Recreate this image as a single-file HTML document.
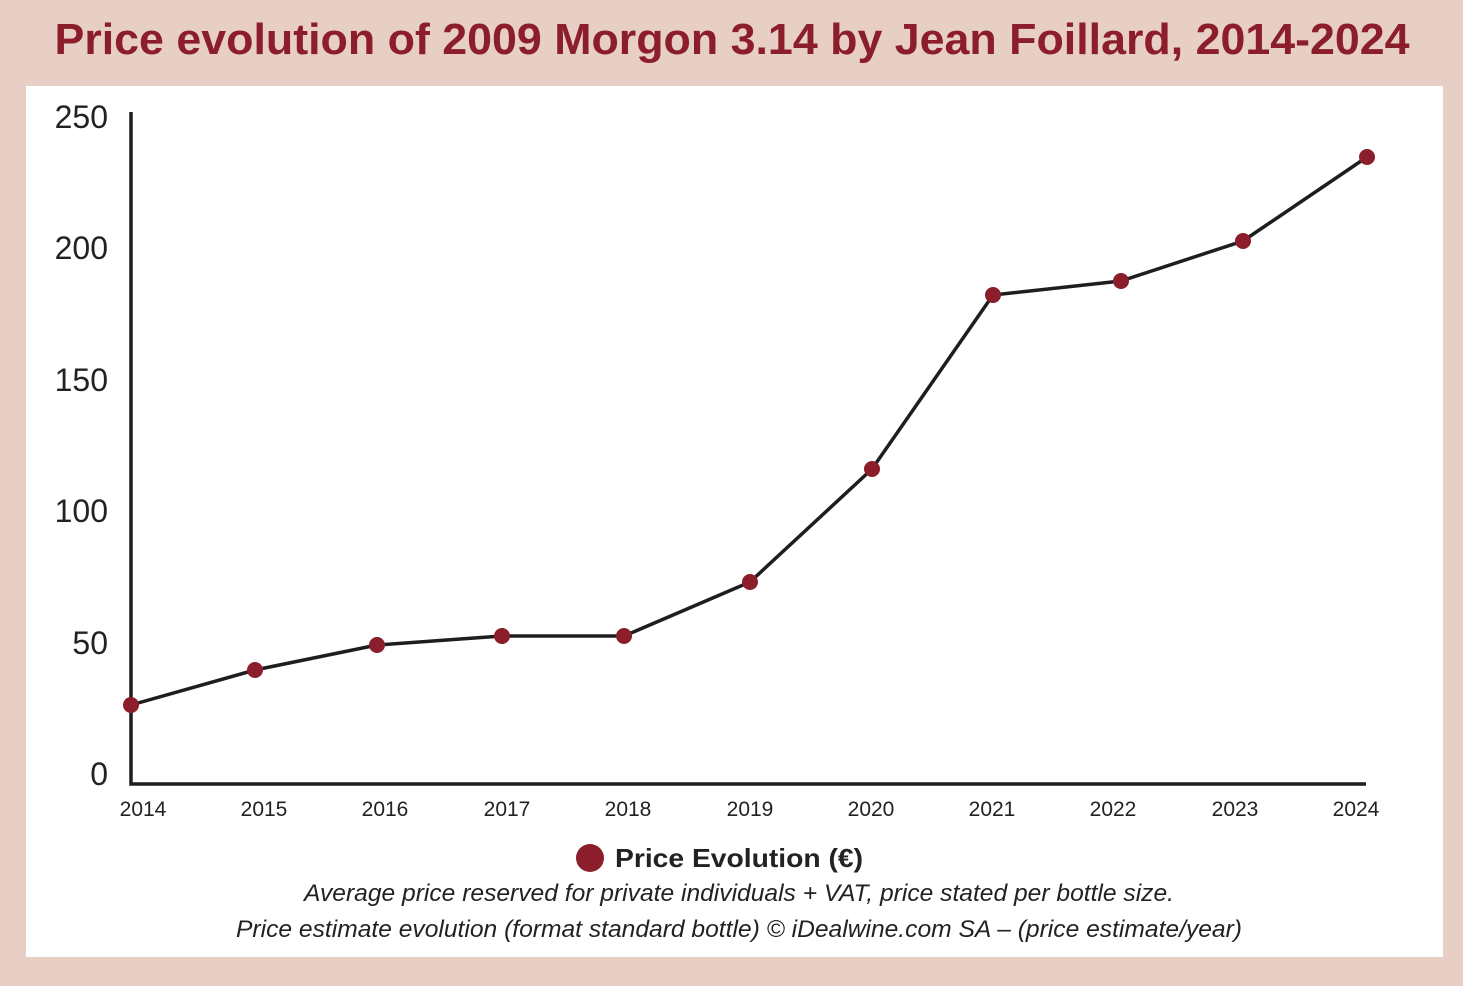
<!DOCTYPE html>
<html><head><meta charset="utf-8"><style>
html,body{margin:0;padding:0;background:#e7cfc6;}
svg{display:block;}
</style></head><body>
<svg width="1463" height="986" viewBox="0 0 1463 986" xmlns="http://www.w3.org/2000/svg" font-family="Liberation Sans, sans-serif">
<rect x="0" y="0" width="1463" height="986" fill="#e7cfc6"/>
<rect x="26" y="86" width="1417" height="871" fill="#ffffff"/>
<text x="732" y="54" text-anchor="middle" font-size="44" font-weight="bold" fill="#8c1e2b" textLength="1355" lengthAdjust="spacingAndGlyphs">Price evolution of 2009 Morgon 3.14 by Jean Foillard, 2014-2024</text>
<g font-size="32" fill="#222" text-anchor="end">
<text x="108" y="128">250</text>
<text x="108" y="259">200</text>
<text x="108" y="391">150</text>
<text x="108" y="522">100</text>
<text x="108" y="654">50</text>
<text x="108" y="785">0</text>
</g>
<path d="M131 112 V784 H1366" fill="none" stroke="#1e1e1e" stroke-width="3.5"/>
<g font-size="21" fill="#222" text-anchor="middle">
<text x="143" y="816">2014</text><text x="264" y="816">2015</text><text x="385" y="816">2016</text><text x="507" y="816">2017</text><text x="628" y="816">2018</text><text x="750" y="816">2019</text><text x="871" y="816">2020</text><text x="992" y="816">2021</text><text x="1113" y="816">2022</text><text x="1235" y="816">2023</text><text x="1356" y="816">2024</text>
</g>
<polyline points="131,705 255,670 377,645 502,636 624,636 750,582 872,469 993,295 1121,281 1243,241 1367,157" fill="none" stroke="#1e1e1e" stroke-width="3.5"/>
<g fill="#8c1e2b">
<circle cx="131" cy="705" r="8"/><circle cx="255" cy="670" r="8"/><circle cx="377" cy="645" r="8"/><circle cx="502" cy="636" r="8"/><circle cx="624" cy="636" r="8"/><circle cx="750" cy="582" r="8"/><circle cx="872" cy="469" r="8"/><circle cx="993" cy="295" r="8"/><circle cx="1121" cy="281" r="8"/><circle cx="1243" cy="241" r="8"/><circle cx="1367" cy="157" r="8"/>
<circle cx="590" cy="858" r="14"/>
</g>
<text x="615" y="867" font-size="26" font-weight="bold" fill="#222" textLength="248" lengthAdjust="spacingAndGlyphs">Price Evolution (€)</text>
<text x="739" y="901" text-anchor="middle" font-size="24" font-style="italic" fill="#222" textLength="870" lengthAdjust="spacingAndGlyphs">Average price reserved for private individuals + VAT, price stated per bottle size.</text>
<text x="739" y="937" text-anchor="middle" font-size="24" font-style="italic" fill="#222" textLength="1006" lengthAdjust="spacingAndGlyphs">Price estimate evolution (format standard bottle) © iDealwine.com SA – (price estimate/year)</text>
</svg>
</body></html>
